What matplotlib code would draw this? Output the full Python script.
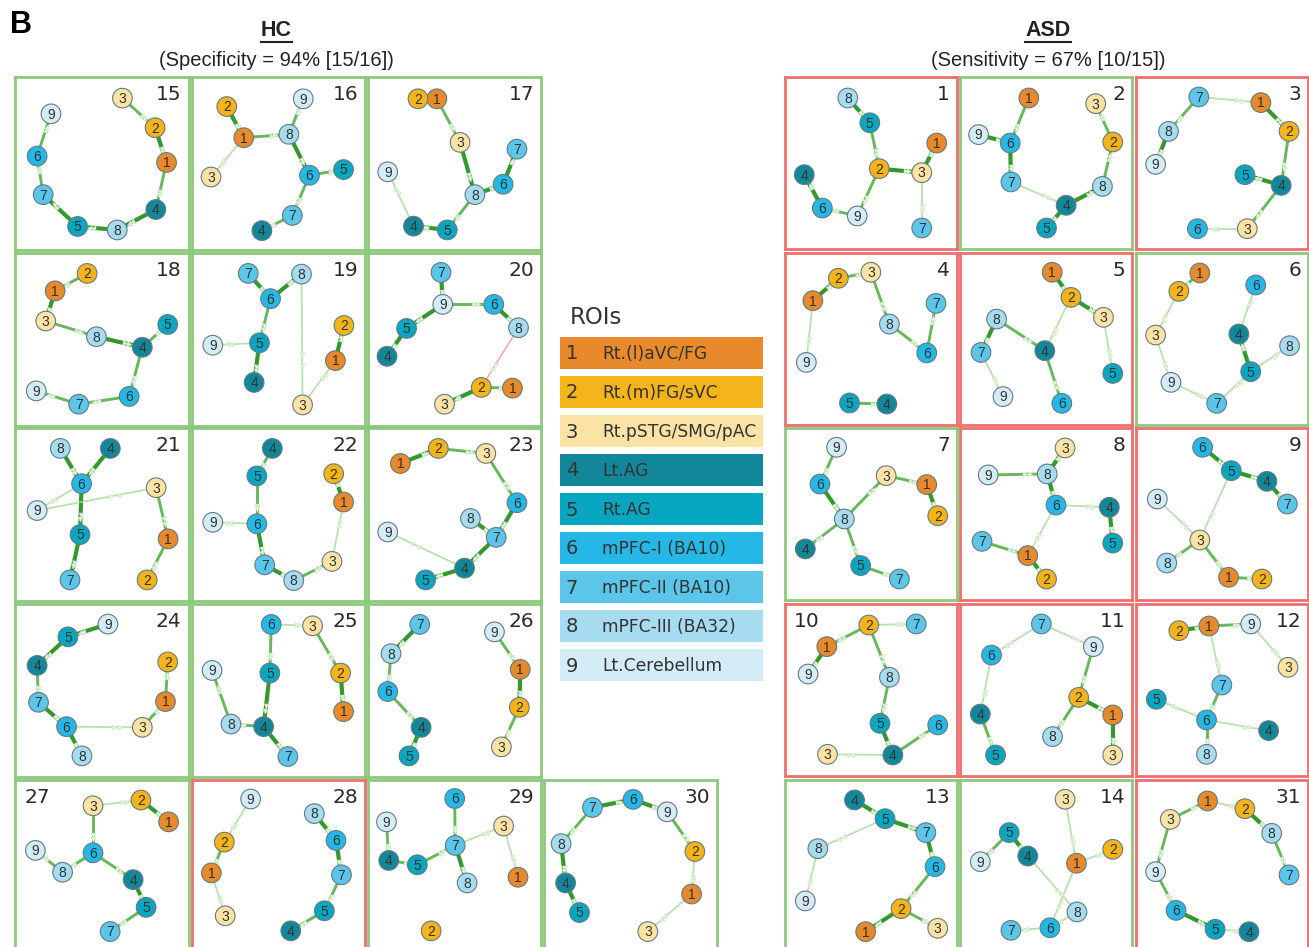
import numpy as np
import matplotlib.pyplot as plt
from matplotlib.markers import MarkerStyle
from matplotlib.transforms import Affine2D
from matplotlib.lines import Line2D

W, H = 1309, 947

roi_names = ['Rt.(l)aVC/FG', 'Rt.(m)FG/sVC', 'Rt.pSTG/SMG/pAC', 'Lt.AG', 'Rt.AG',
             'mPFC-I (BA10)', 'mPFC-II (BA10)', 'mPFC-III (BA32)', 'Lt.Cerebellum']
roi_colors = ['#E8892B', '#F6B41A', '#FBE3A6', '#13879A', '#06A6C0',
              '#25B8E6', '#5BC5EA', '#A7DCF0', '#D4ECF6']

hc_grid = [[15, 16, 17], [18, 19, 20], [21, 22, 23], [24, 25, 26], [27, 28, 29, 30]]
asd_grid = [[1, 2, 3], [4, 5, 6], [7, 8, 9], [10, 11, 12], [13, 14, 31]]
# panels framed in red (classified as ASD)
pred_asd = [28, 1, 3, 4, 5, 8, 9, 10, 11, 12, 31]

# node layout per subject, nodes 1..9 (x right, y down, 0-100 panel units)
node_pos = {
    15: [(87.3, 49.4), (80.7, 29.3), (61.8, 12.2), (81.1, 76.6), (35.9, 86.4), (12.5, 45.7), (16, 68), (58.8, 88.4), (20.5, 21.3)],
    16: [(29.9, 35.1), (20.1, 17.1), (11, 57.8), (40.4, 88.8), (87.6, 53.5), (67.9, 56.8), (58, 80), (56, 33.1), (64.3, 12.6)],
    17: [(39.8, 12.6), (28.9, 12.6), (53.2, 37.8), (26.3, 86.2), (45.8, 88.4), (78.1, 62), (86.1, 41.7), (61.8, 68), (11.4, 54.8)],
    18: [(22.9, 21.9), (41.4, 11.8), (17.5, 39.3), (73.3, 54.5), (88, 41.3), (65.7, 82.9), (36.5, 87.4), (46.8, 48.4), (12, 79.7)],
    19: [(82.9, 62.2), (87.8, 41.9), (63.9, 87.8), (35.9, 74.8), (39, 51.9), (45.4, 26.4), (32.5, 11.8), (63.3, 12.2), (12, 53.3)],
    20: [(83.5, 78.1), (65.5, 77.7), (44.2, 87.4), (11, 59.7), (22.3, 43.6), (72.7, 29.7), (42.2, 11.2), (87, 43.2), (43.2, 29.7)],
    21: [(88.2, 64.1), (76.1, 87.8), (81.3, 34.5), (54.8, 11.8), (37.3, 61.6), (38.2, 32.2), (31.5, 87.8), (25.9, 11.8), (12.5, 47.7)],
    22: [(87.6, 42.8), (81.9, 26.4), (80.9, 77.1), (46.4, 11.8), (37.5, 27.7), (37.5, 55.4), (42, 79.1), (58.8, 88.2), (12, 54.5)],
    23: [(18.7, 20.5), (40.6, 11.8), (68.1, 14.7), (55.8, 81), (33.3, 87.8), (86.1, 43.2), (74.1, 63.2), (59.2, 52.3), (11.4, 60.1)],
    24: [(86.7, 56.4), (88, 33.5), (73.3, 71.3), (12.5, 35.5), (30.3, 19), (29.5, 70.9), (13.3, 56.8), (38.4, 87.8), (53.4, 11.6)],
    25: [(87.6, 62.2), (85.9, 39.9), (69.7, 12.6), (41.4, 70.9), (45, 39.9), (45.8, 11.8), (55.4, 88.2), (22.5, 69.4), (11.6, 38.4)],
    26: [(88, 37.8), (87.5, 59.7), (77.1, 82.6), (30.7, 71.3), (23.7, 87.8), (11.4, 50.6), (29.9, 11.8), (13.3, 28.7), (73.1, 16.1)],
    27: [(88.5, 24.2), (72.5, 11.6), (44.8, 14.9), (68, 57.6), (75.5, 73.6), (44.8, 42.1), (54.7, 87.6), (27.2, 53.3), (11.5, 40.7)],
    28: [(11.2, 53.7), (18.7, 35.9), (19.2, 78.5), (57.1, 87.2), (76.5, 75.6), (83.2, 34.9), (86.4, 54.8), (70.7, 19.4), (33.9, 11)],
    29: [(86.7, 56.2), (36.5, 87.2), (78.4, 26.6), (12, 46.5), (28.5, 49), (50.1, 10.7), (50.4, 37.8), (57.3, 59.5), (10.7, 24.2)],
    30: [(85.3, 65.9), (87.2, 41.3), (60, 87.6), (12.5, 59.5), (20.5, 76.6), (51.5, 11.2), (28, 15.9), (9.9, 36.8), (71.2, 18.4)],
    1: [(88.2, 38.4), (54.8, 53.3), (79.5, 55.6), (11.2, 56.8), (49.3, 26.6), (21.7, 76.2), (79.5, 87.8), (36.5, 12.2), (42, 80.8)],
    2: [(40, 12.2), (88.8, 37.8), (78.9, 15.5), (61.7, 74.6), (50.3, 87.8), (29.2, 38.4), (29.6, 61), (82.8, 63.6), (10.8, 33.5)],
    3: [(72.6, 14.9), (89, 31.6), (64.7, 88.2), (84.4, 63), (63.3, 56.8), (35.7, 88.2), (36.5, 11.6), (18.9, 31.6), (11.4, 50.8)],
    4: [(16.2, 27.7), (31, 14.7), (49.9, 11.2), (59.2, 87.8), (37.5, 87.2), (82.4, 58.1), (87.8, 29.3), (60.7, 41.3), (12.4, 63.6)],
    5: [(53.6, 11.2), (64.5, 25.8), (83.4, 37.4), (49.3, 56.8), (88.8, 70), (59.2, 87.4), (12.2, 57.8), (21.3, 38.4), (25, 83.5)],
    6: [(37.1, 11.6), (24.9, 22.3), (11.4, 47.7), (59.8, 47.1), (66.7, 69), (69.6, 18.6), (46.9, 87.4), (89.3, 53.9), (20.3, 75.2)],
    7: [(82.4, 32.9), (88.8, 51), (58.8, 27.7), (11.8, 70.3), (44, 80), (20.3, 32.6), (66.5, 87.8), (34.5, 52.9), (30, 11.2)],
    8: [(39.4, 74.2), (50.3, 87.8), (61.1, 11.6), (86.8, 46.1), (88.8, 66.9), (55.8, 44.8), (12.8, 65.9), (50.7, 26.7), (16.4, 27.3)],
    9: [(53.8, 86.8), (73.2, 87.8), (37.1, 65.1), (76.1, 31), (55.4, 24.8), (38.7, 11.2), (88, 44.2), (17.9, 78.5), (12.4, 41.3)],
    10: [(24.3, 24.8), (48.7, 12.2), (24.7, 87.4), (62.7, 87.8), (55.2, 69.4), (88.8, 70.3), (76.3, 11.6), (60.7, 42.6), (13.4, 40.7)],
    11: [(88.8, 64.5), (69, 54.3), (88.8, 87.8), (11.8, 64), (20.7, 87.8), (18.3, 29.7), (47.3, 11.6), (53.8, 77.1), (77.5, 24.8)],
    12: [(42.4, 12.8), (24.9, 15.5), (88.4, 36.8), (77.1, 73.6), (11.8, 55.4), (41, 67.4), (49.9, 47.1), (41, 87.4), (66.7, 11.6)],
    13: [(46.9, 88.2), (67.5, 74.8), (88.8, 86.2), (40.4, 11.6), (58.2, 22.5), (87.2, 50.4), (81.9, 30.6), (19.1, 39.9), (11.8, 70.3)],
    14: [(67.7, 48.4), (88.8, 40.3), (61.1, 11.2), (39.4, 44.2), (28.6, 30.6), (52.3, 85.9), (29.6, 87.4), (68, 76.7), (11.8, 47.5)],
    31: [(41.6, 12.2), (63.3, 16.7), (19.9, 22.9), (65.7, 88.2), (46, 86.8), (23.3, 75.8), (89, 55.2), (78.9, 31), (11.4, 53.3)],
}

# directed links (from, to, strength 1-3); negative strength = inhibitory (pink)
links = {
    15: [(3, 2, 2), (2, 1, 3), (1, 4, 2), (4, 8, 3), (8, 5, 3), (5, 7, 3), (7, 6, 2), (6, 9, 2)],
    16: [(2, 1, 3), (1, 3, 1), (1, 8, 2), (8, 9, 2), (8, 6, 3), (6, 5, 2), (6, 7, 2), (7, 4, 2)],
    17: [(2, 1, 2), (1, 3, 2), (3, 8, 3), (8, 6, 3), (6, 7, 3), (8, 5, 2), (5, 4, 3), (4, 9, 1)],
    18: [(2, 1, 2), (1, 3, 3), (3, 8, 2), (8, 4, 3), (4, 5, 2), (4, 6, 2), (6, 7, 2), (7, 9, 2)],
    19: [(7, 6, 3), (6, 8, 3), (6, 5, 2), (5, 9, 1), (5, 4, 3), (8, 3, 1), (3, 1, 1), (1, 2, 3)],
    20: [(7, 9, 3), (9, 6, 2), (6, 8, 3), (9, 5, 3), (5, 4, 3), (8, 2, -1), (2, 1, 2), (2, 3, 3)],
    21: [(8, 6, 3), (4, 6, 3), (6, 9, 1), (6, 5, 3), (5, 7, 3), (9, 3, 1), (3, 1, 2), (1, 2, 2)],
    22: [(4, 5, 2), (5, 6, 2), (6, 9, 1), (6, 7, 3), (7, 8, 3), (8, 3, 2), (3, 1, 1), (1, 2, 3)],
    23: [(1, 2, 3), (2, 3, 2), (3, 6, 2), (6, 7, 3), (8, 7, 3), (7, 4, 3), (4, 5, 3), (4, 9, 1)],
    24: [(9, 5, 3), (5, 4, 3), (4, 7, 2), (7, 6, 3), (6, 8, 3), (6, 3, 1), (3, 1, 2), (1, 2, 2)],
    25: [(6, 3, 1), (6, 5, 2), (5, 4, 3), (4, 8, 2), (8, 9, 2), (4, 7, 3), (3, 2, 2), (2, 1, 3)],
    26: [(7, 8, 3), (8, 6, 2), (6, 4, 2), (4, 5, 3), (9, 1, 2), (1, 2, 3), (2, 3, 2)],
    27: [(3, 2, 1), (2, 1, 3), (3, 6, 2), (6, 8, 2), (8, 9, 2), (6, 4, 2), (4, 5, 3), (5, 7, 2)],
    28: [(9, 2, 1), (2, 1, 2), (1, 3, 1), (8, 6, 3), (6, 7, 3), (7, 5, 2), (5, 4, 2)],
    29: [(6, 7, 2), (9, 4, 2), (4, 5, 2), (5, 7, 2), (7, 8, 3), (7, 3, 1), (3, 1, 1)],
    30: [(7, 6, 3), (6, 9, 3), (9, 2, 2), (2, 1, 1), (1, 3, 1), (7, 8, 2), (8, 4, 3), (4, 5, 3)],
    1: [(8, 5, 3), (5, 2, 2), (2, 3, 3), (3, 1, 3), (3, 7, 1), (2, 9, 2), (9, 6, 2), (6, 4, 3)],
    2: [(1, 6, 2), (9, 6, 3), (6, 7, 3), (7, 4, 1), (4, 8, 3), (8, 2, 2), (2, 3, 2), (4, 5, 3)],
    3: [(7, 1, 1), (1, 2, 3), (2, 4, 2), (4, 5, 3), (4, 3, 2), (3, 6, 1), (7, 8, 2), (8, 9, 3)],
    4: [(1, 2, 3), (2, 3, 2), (3, 8, 2), (8, 6, 2), (6, 7, 2), (1, 9, 1), (5, 4, 2)],
    5: [(1, 2, 3), (2, 3, 3), (3, 5, 1), (2, 4, 1), (8, 4, 2), (8, 7, 3), (7, 9, 1), (4, 6, 2)],
    6: [(1, 2, 2), (2, 3, 1), (3, 9, 1), (9, 7, 1), (7, 5, 1), (5, 8, 1), (5, 4, 3), (4, 6, 1)],
    7: [(9, 6, 2), (6, 8, 3), (8, 3, 2), (3, 1, 2), (1, 2, 3), (8, 4, 2), (8, 5, 2), (5, 7, 2)],
    8: [(9, 8, 2), (8, 3, 3), (8, 6, 3), (6, 4, 1), (4, 5, 3), (6, 1, 1), (7, 1, 2), (1, 2, 3)],
    9: [(6, 5, 3), (5, 4, 3), (4, 7, 3), (5, 3, 1), (9, 3, 1), (3, 8, 2), (3, 1, 2), (1, 2, 2)],
    10: [(2, 7, 1), (2, 1, 2), (1, 9, 3), (2, 8, 2), (8, 5, 2), (5, 4, 3), (4, 6, 2), (4, 3, 1)],
    11: [(7, 9, 1), (7, 6, 1), (6, 4, 1), (4, 5, 2), (9, 2, 2), (2, 1, 3), (2, 8, 2), (1, 3, 3)],
    12: [(2, 1, 3), (1, 9, 2), (9, 3, 1), (1, 7, 1), (7, 6, 2), (6, 5, 1), (6, 4, 1), (6, 8, 2)],
    13: [(4, 5, 3), (5, 7, 3), (7, 6, 3), (6, 2, 2), (2, 1, 3), (2, 3, 2), (5, 8, 1), (8, 9, 1)],
    14: [(3, 1, 1), (1, 2, 1), (1, 6, 1), (5, 4, 3), (5, 9, 2), (4, 8, 1), (8, 6, 1), (6, 7, 1)],
    31: [(3, 1, 2), (1, 2, 1), (2, 8, 3), (8, 7, 2), (3, 9, 2), (9, 6, 2), (6, 5, 3), (5, 4, 1)],
}

# number placed top-left instead of top-right
left_labels = [27, 10]

link_style = {3: ('#35982f', 3.0, 1.0), 2: ('#55b149', 2.1, 0.9),
              1: ('#a9d79f', 1.3, 0.8), -1: ('#eca4a4', 1.2, 0.9)}

fig = plt.figure(figsize=(W / 100, H / 100), dpi=100)


def panel_axes(left, top, size=172):
    return fig.add_axes([left / W, 1 - (top + size) / H, size / W, size / H])


def draw_panel(ax, sid):
    pos = np.array(node_pos[sid], dtype=float)
    for a, b, s in links[sid]:
        x0, y0 = pos[a - 1]
        x1, y1 = pos[b - 1]
        col, lw, al = link_style[s]
        ax.plot([x0, x1], [y0, y1], color=col, lw=lw, alpha=al, zorder=1,
                solid_capstyle='round')
        ang = np.degrees(np.arctan2(-(y1 - y0), x1 - x0))
        for f in (0.62, 0.7):
            mk = MarkerStyle('>', transform=Affine2D().rotate_deg(ang))
            ax.plot(x0 + f * (x1 - x0), y0 + f * (y1 - y0), marker=mk, ms=3.5,
                    color='#e4f3df', mec='#c6e6bd', mew=0.4, zorder=2)
    ax.scatter(pos[:, 0], pos[:, 1], s=200, c=roi_colors, edgecolors='#667a80',
               linewidths=0.8, zorder=3)
    for i, (x, y) in enumerate(pos):
        ax.text(x, y + 0.5, str(i + 1), ha='center', va='center', fontsize=10,
                color='#333333', family='Liberation Sans', zorder=4)
    if sid in left_labels:
        ax.text(5, 4.5, str(sid), ha='left', va='top', fontsize=14.5, color='#2a2a2a')
    else:
        ax.text(96, 4.5, str(sid), ha='right', va='top', fontsize=14.5, color='#2a2a2a')
    ax.set_xlim(0, 100)
    ax.set_ylim(100, 0)
    ax.set_xticks([])
    ax.set_yticks([])
    frame = '#ee6f6f' if sid in pred_asd else '#8cc97c'
    for sp in ax.spines.values():
        sp.set_color(frame)
        sp.set_linewidth(2)


row_tops = [77, 253, 428, 604, 780]
hc_lefts = [15.5, 192, 368, 544]
asd_lefts = [785, 960, 1136]

for r, row in enumerate(hc_grid):
    for c, sid in enumerate(row):
        draw_panel(panel_axes(hc_lefts[c], row_tops[r], 173), sid)
for r, row in enumerate(asd_grid):
    for c, sid in enumerate(row):
        draw_panel(panel_axes(asd_lefts[c], row_tops[r]), sid)

# ROI legend
lax = fig.add_axes([555 / W, 1 - 690 / H, 215 / W, 390 / H])
lax.set_xlim(555, 770)
lax.set_ylim(690, 300)
lax.axis('off')
ys = 353 + 39 * np.arange(len(roi_names))
lax.barh(ys, 203, left=560, height=32, color=roi_colors)
for i, (y, name) in enumerate(zip(ys, roi_names)):
    lax.text(572, y + 1, str(i + 1), ha='center', va='center', fontsize=14, color='#333333')
    lax.text(602, y + 1, name, ha='left', va='center', fontsize=12.3, color='#333333')
lax.text(570, 318, 'ROIs', ha='left', va='center', fontsize=16.5, color='#333333')

# titles
fig.text(10 / W, 1 - 25 / H, 'B', fontsize=22, fontweight='bold',
         family='Liberation Sans', va='center', ha='left')
heads = []
for cx, head, sub in [(276, 'HC', '(Specificity = 94% [15/16])'),
                      (1048, 'ASD', '(Sensitivity = 67% [10/15])')]:
    heads.append(fig.text(cx / W, 1 - 30 / H, head, fontsize=15.5, family='Liberation Sans',
                          fontweight='bold', ha='center', va='center', color='#222222'))
    fig.text(cx / W, 1 - 61 / H, sub, fontsize=14.5, family='Liberation Sans',
             ha='center', va='center', color='#222222')

fig.canvas.draw()
for t in heads:
    bb = t.get_window_extent()
    fig.add_artist(Line2D([bb.x0 / W, bb.x1 / W], [(bb.y0 - 1.5) / H] * 2,
                          color='#222222', lw=1.5))

fig.savefig('out.png', dpi=100)
